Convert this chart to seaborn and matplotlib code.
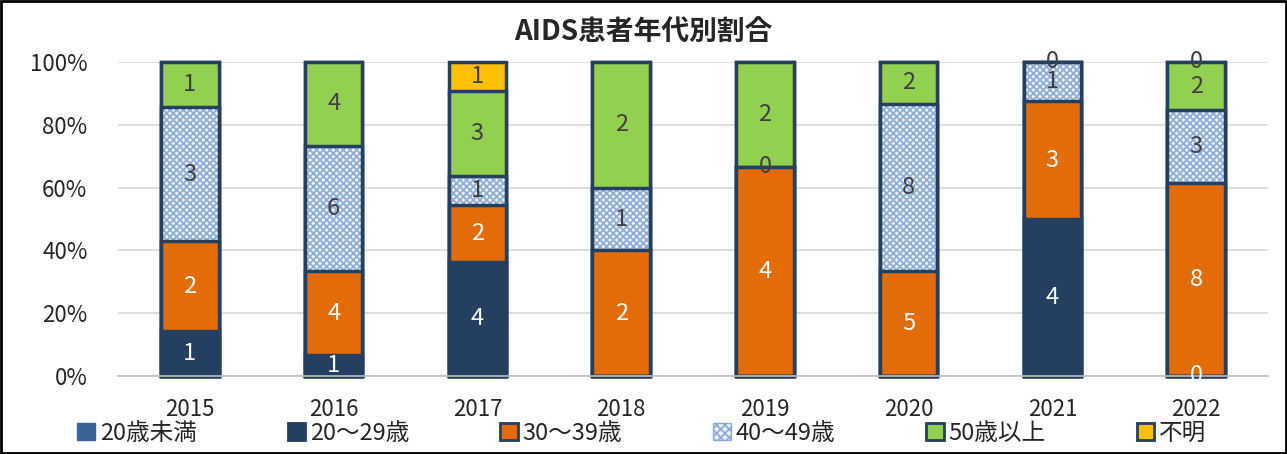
import numpy as np
import pandas as pd
import matplotlib
matplotlib.use("Agg")
import matplotlib.pyplot as plt
from matplotlib.patches import Patch, Rectangle
import seaborn as sns

# data (NaN = blank cell, 0 = shown zero)
years = ["2015", "2016", "2017", "2018", "2019", "2020", "2021", "2022"]
age_groups = ["20歳未満", "20～29歳", "30～39歳", "40～49歳", "50歳以上", "不明"]
under20 = [np.nan, np.nan, np.nan, np.nan, np.nan, np.nan, np.nan, np.nan]
age20s = [1, 1, 4, np.nan, np.nan, np.nan, 4, 0]
age30s = [2, 4, 2, 2, 4, 5, 3, 8]
age40s = [3, 6, 1, 1, 0, 8, 1, 3]
age50plus = [1, 4, 3, 2, 2, 2, 0, 2]
unknown = [np.nan, np.nan, 1, np.nan, np.nan, np.nan, np.nan, 0]

sns.set_theme(style="white")
plt.rcParams['font.family'] = ['Noto Sans CJK JP', 'DejaVu Sans']
plt.rcParams['hatch.linewidth'] = 1.3

navy = "#243F60"
colors = ["#3A6496", navy, "#E36C09", "#FFFFFF", "#92D050", "#FFC000"]
text_colors = ["white", "white", "white", "#404040", "#404040", "#404040"]

counts = pd.DataFrame(
    [under20, age20s, age30s, age40s, age50plus, unknown], index=age_groups, columns=years
).T
pct = counts.fillna(0).div(counts.fillna(0).sum(axis=1), axis=0) * 100
cum = pct.cumsum(axis=1)

fig = plt.figure(figsize=(12.87, 4.54), dpi=100)
ax = fig.add_axes([118 / 1287, 1 - 376 / 454, 1150 / 1287, 314 / 454])

# stacked bars drawn from the top layer down as cumulative heights
for i in reversed(range(len(age_groups))):
    name = age_groups[i]
    df = pd.DataFrame({"year": years, "value": cum[name].values})
    if name == "40～49歳":
        sns.barplot(data=df, x="year", y="value", color="#EEF3FA", width=0.4,
                    hatch="xxxxx", edgecolor="#8DADD8", linewidth=0, ax=ax,
                    saturation=1, errorbar=None)
        sns.barplot(data=df, x="year", y="value", color=navy, width=0.4, fill=False,
                    linewidth=2.5, ax=ax, errorbar=None)
    else:
        sns.barplot(data=df, x="year", y="value", color=colors[i], width=0.4,
                    edgecolor=navy, linewidth=2.5, ax=ax, saturation=1, errorbar=None)

for p in ax.patches:
    p.set_clip_on(False)

# data labels
for i, name in enumerate(age_groups):
    for j, y in enumerate(years):
        v = counts.loc[y, name]
        if pd.isna(v):
            continue
        center = cum.loc[y, name] - pct.loc[y, name] / 2
        ax.text(j, center, f"{int(v)}", ha="center", va="center", fontsize=17,
                color=text_colors[i], zorder=5)

ax.set_ylim(0, 100)
ax.set_xlim(-0.5, 7.5)
ax.set_yticks(range(0, 101, 20))
ax.set_yticklabels([f"{t}%" for t in range(0, 101, 20)], fontsize=16)
ax.tick_params(axis="x", labelsize=16, pad=16, length=0)
ax.tick_params(axis="y", pad=22, length=0)
ax.set_xlabel("")
ax.set_ylabel("")
ax.yaxis.grid(True, color="#D9D9D9", linewidth=1.2)
ax.set_axisbelow(True)
for s in ["left", "right", "top"]:
    ax.spines[s].set_visible(False)
ax.spines["bottom"].set_color("#BFBFBF")
ax.spines["bottom"].set_linewidth(1.2)

fig.suptitle("AIDS患者年代別割合", fontsize=20, fontweight="bold", y=0.96, x=0.5)

handles = []
for i, name in enumerate(age_groups):
    if i == 0:
        handles.append(Patch(facecolor=colors[i], edgecolor=colors[i], label=name))
    elif name == "40～49歳":
        handles.append(Patch(facecolor="#EEF3FA", edgecolor="#8DADD8", hatch="xxxx", label=name))
    else:
        handles.append(Patch(facecolor=colors[i], edgecolor=navy, linewidth=2, label=name))
leg = fig.legend(handles=handles, loc="center left", bbox_to_anchor=(0.051, 0.045), ncol=6,
                 frameon=False, fontsize=17, handlelength=0.75, handleheight=0.75,
                 handletextpad=0.2, columnspacing=3.85, borderpad=0)

fig.patches.append(Rectangle((0.001, 0.002), 0.998, 0.996, transform=fig.transFigure,
                             fill=False, edgecolor="black", linewidth=2))

fig.savefig("out.png", dpi=100)
